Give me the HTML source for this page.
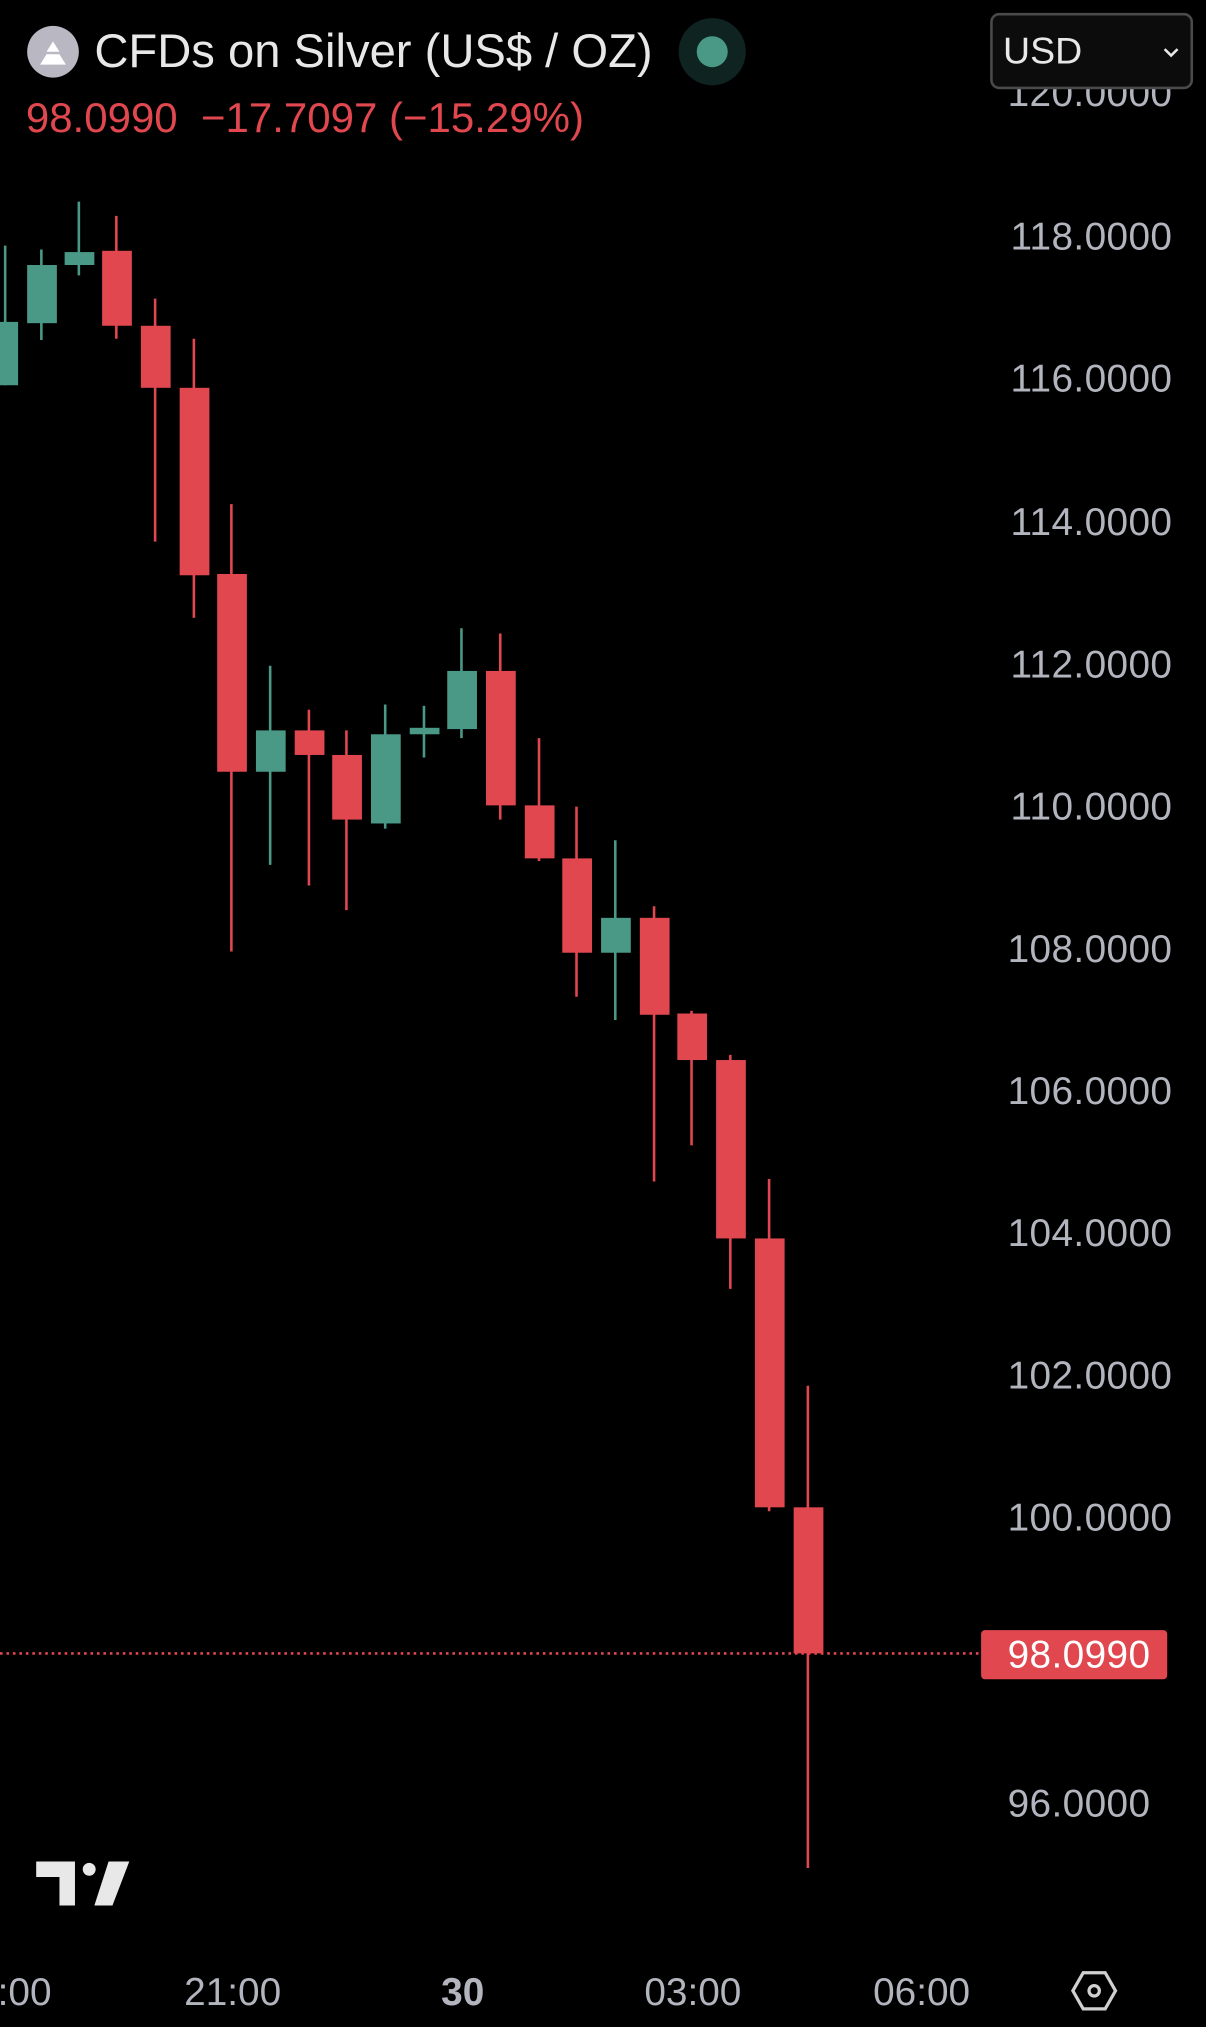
<!DOCTYPE html>
<html><head><meta charset="utf-8"><style>
html,body{margin:0;padding:0;background:#000;}
svg{display:block}
</style></head><body>
<svg width="1206" height="2027" viewBox="0 0 933 1568" preserveAspectRatio="none" xmlns="http://www.w3.org/2000/svg" font-family="Liberation Sans, sans-serif">
<rect width="933" height="1568" fill="#000"/>
<g fill="#b2b5be" font-size="30" text-anchor="end" letter-spacing="0.3">
<text x="907" y="82">120.0000</text>
<text x="907" y="193">118.0000</text>
<text x="907" y="303">116.0000</text>
<text x="907" y="414">114.0000</text>
<text x="907" y="524">112.0000</text>
<text x="907" y="634">110.0000</text>
<text x="907" y="744">108.0000</text>
<text x="907" y="854">106.0000</text>
<text x="907" y="964">104.0000</text>
<text x="907" y="1074">102.0000</text>
<text x="907" y="1184">100.0000</text>
<text x="890" y="1405">96.0000</text>
</g>
<g stroke-width="2">
<line x1="4" y1="190" x2="4" y2="298" stroke="#4a9886"/><rect x="-8" y="249" width="22" height="49" fill="#4a9886"/>
<line x1="32" y1="193" x2="32" y2="263" stroke="#4a9886"/><rect x="21" y="205" width="23" height="45" fill="#4a9886"/>
<line x1="61" y1="156" x2="61" y2="213" stroke="#4a9886"/><rect x="50" y="195" width="23" height="10" fill="#4a9886"/>
<line x1="90" y1="167" x2="90" y2="262" stroke="#e0474f"/><rect x="79" y="194" width="23" height="58" fill="#e0474f"/>
<line x1="120" y1="231" x2="120" y2="419" stroke="#e0474f"/><rect x="109" y="252" width="23" height="48" fill="#e0474f"/>
<line x1="150" y1="262" x2="150" y2="478" stroke="#e0474f"/><rect x="139" y="300" width="23" height="145" fill="#e0474f"/>
<line x1="179" y1="390" x2="179" y2="736" stroke="#e0474f"/><rect x="168" y="444" width="23" height="153" fill="#e0474f"/>
<line x1="209" y1="515" x2="209" y2="669" stroke="#4a9886"/><rect x="198" y="565" width="23" height="32" fill="#4a9886"/>
<line x1="239" y1="549" x2="239" y2="685" stroke="#e0474f"/><rect x="228" y="565" width="23" height="19" fill="#e0474f"/>
<line x1="268" y1="565" x2="268" y2="704" stroke="#e0474f"/><rect x="257" y="584" width="23" height="50" fill="#e0474f"/>
<line x1="298" y1="545" x2="298" y2="641" stroke="#4a9886"/><rect x="287" y="568" width="23" height="69" fill="#4a9886"/>
<line x1="328" y1="546" x2="328" y2="586" stroke="#4a9886"/><rect x="317" y="563" width="23" height="5" fill="#4a9886"/>
<line x1="357" y1="486" x2="357" y2="571" stroke="#4a9886"/><rect x="346" y="519" width="23" height="45" fill="#4a9886"/>
<line x1="387" y1="490" x2="387" y2="634" stroke="#e0474f"/><rect x="376" y="519" width="23" height="104" fill="#e0474f"/>
<line x1="417" y1="571" x2="417" y2="666" stroke="#e0474f"/><rect x="406" y="623" width="23" height="41" fill="#e0474f"/>
<line x1="446" y1="624" x2="446" y2="771" stroke="#e0474f"/><rect x="435" y="664" width="23" height="73" fill="#e0474f"/>
<line x1="476" y1="650" x2="476" y2="789" stroke="#4a9886"/><rect x="465" y="710" width="23" height="27" fill="#4a9886"/>
<line x1="506" y1="701" x2="506" y2="914" stroke="#e0474f"/><rect x="495" y="710" width="23" height="75" fill="#e0474f"/>
<line x1="535" y1="782" x2="535" y2="886" stroke="#e0474f"/><rect x="524" y="784" width="23" height="36" fill="#e0474f"/>
<line x1="565" y1="816" x2="565" y2="997" stroke="#e0474f"/><rect x="554" y="820" width="23" height="138" fill="#e0474f"/>
<line x1="595" y1="912" x2="595" y2="1169" stroke="#e0474f"/><rect x="584" y="958" width="23" height="208" fill="#e0474f"/>
<line x1="625" y1="1072" x2="625" y2="1445" stroke="#e0474f"/><rect x="614" y="1166" width="23" height="113" fill="#e0474f"/>
</g>
<line x1="0" y1="1279" x2="757" y2="1279" stroke="#e0474f" stroke-width="2" stroke-dasharray="2,3"/>
<rect x="759" y="1261" width="144" height="38" rx="3" fill="#e0474f"/>
<text x="890" y="1290" fill="#fff" font-size="30" text-anchor="end" letter-spacing="0.3">98.0990</text>
<!-- header -->
<rect x="0" y="0" width="760" height="112" fill="#000"/>
<rect x="0" y="0" width="933" height="68" fill="#000"/>
<circle cx="41" cy="40" r="20" fill="#b8b7c2"/>
<path d="M31 50 L36 42 L46 42 L51 50 Z M36 40 L41 32 L46 40 Z" fill="#fff"/>
<text x="73" y="52" fill="#e8e8e8" font-size="36.5">CFDs on Silver (US$ / OZ)</text>
<circle cx="551" cy="40" r="26" fill="#0f2320"/>
<circle cx="551" cy="40" r="12" fill="#4a9886"/>
<text x="20" y="102" fill="#e0474f" font-size="32.5" xml:space="preserve">98.0990  −17.7097 (−15.29%)</text>
<rect x="767" y="11" width="155" height="57" rx="6" fill="#0c0c0c" stroke="#4a4a4a" stroke-width="2"/>
<text x="776" y="49" fill="#e8e8e8" font-size="29">USD</text>
<path d="M901 38 L906 43 L911 38" stroke="#e8e8e8" stroke-width="2" fill="none"/>
<!-- TV logo -->
<path d="M28 1440 H58 V1474 H46 V1452 H28 Z" fill="#e8e8e8"/>
<circle cx="69" cy="1446" r="5" fill="#e8e8e8"/>
<path d="M84 1440 H100 L87 1474 H73 Z" fill="#e8e8e8"/>
<!-- time axis -->
<g fill="#b2b5be" font-size="30" text-anchor="middle">
<text x="19" y="1551">:00</text>
<text x="180" y="1551">21:00</text>
<text x="358" y="1551" font-weight="bold">30</text>
<text x="536" y="1551">03:00</text>
<text x="713" y="1551">06:00</text>
</g>
<path d="M838 1526 H855 L863 1540 L855 1554 H838 L830 1540 Z" fill="none" stroke="#d0d0d0" stroke-width="2.5"/>
<circle cx="846.5" cy="1540" r="4" fill="none" stroke="#d0d0d0" stroke-width="2.5"/>
</svg>
</body></html>
